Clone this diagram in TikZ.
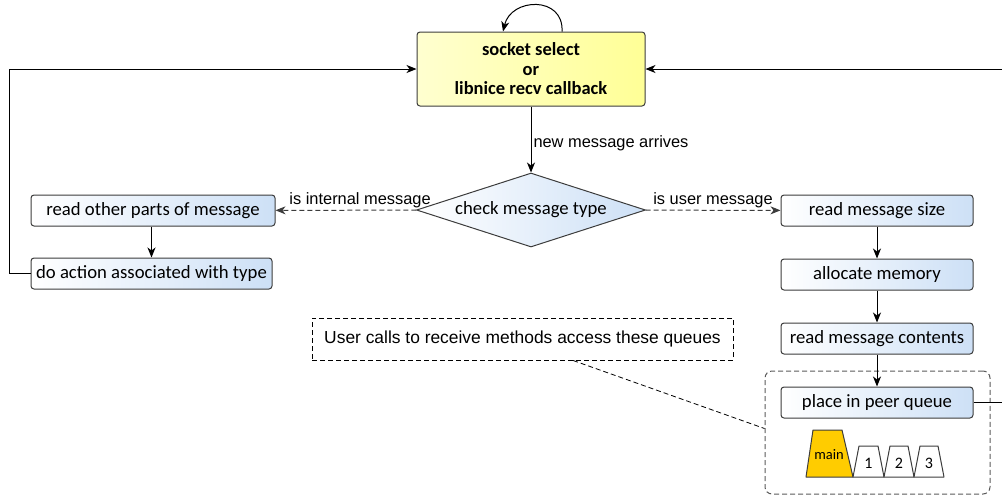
\documentclass[tikz,border=0pt]{standalone}
\usepackage{fontspec}
\setmainfont{Carlito}
\newfontfamily\arialfont{Liberation Sans}
\usetikzlibrary{shapes.geometric,arrows.meta,calc}

\definecolor{boxblue}{RGB}{205,224,246}
\definecolor{boxline}{RGB}{60,60,60}
\definecolor{cbyellow}{RGB}{255,255,150}
\definecolor{mainyellow}{RGB}{255,204,0}
\definecolor{grpgray}{RGB}{90,90,90}

\tikzset{
  arr/.style={line width=1pt, -{Stealth[length=10pt,width=8pt,inset=3pt]}},
  plain/.style={line width=1pt},
  stepbox/.style={draw=boxline, line width=1pt, rounded corners=3pt,
    left color=white, right color=boxblue, minimum height=31pt,
    inner sep=0pt, font=\fontsize{18.7}{20}\selectfont},
  cbbox/.style={draw=boxline, line width=1pt, rounded corners=3pt,
    left color=cbyellow!45!white, middle color=white, right color=cbyellow,
    minimum width=228pt, minimum height=74pt, inner sep=0pt, align=center,
    font=\fontsize{18.5}{19.5}\selectfont\bfseries},
  decision/.style={diamond, aspect=3.1, draw=boxline, line width=1pt,
    left color=white, right color=boxblue, minimum width=229pt,
    minimum height=74pt, inner sep=0pt, font=\fontsize{18.7}{20}\selectfont},
  lbl/.style={font=\arialfont\fontsize{16.4}{18}\selectfont, inner sep=2pt},
  notebox/.style={draw=black, dashed, dash pattern=on 5pt off 3pt, line width=1pt,
    minimum width=421pt, minimum height=42pt, inner sep=0pt,
    font=\arialfont\fontsize{17.4}{19}\selectfont},
  grpbox/.style={draw=grpgray, dash pattern=on 5pt off 3pt, line width=1pt,
    rounded corners=7pt, minimum width=225pt, minimum height=123pt, inner sep=0pt},
  queue/.style={draw=boxline, line width=1pt, line join=round},
  qlbl/.style={inner sep=0pt, font=\fontsize{16}{18}\selectfont},
}

\begin{document}
\begin{tikzpicture}[x=1pt,y=-1pt]
\useasboundingbox (0,0) rectangle (1002,496);

% central event source with its self loop
\node[cbbox] (cb) at (531,69) {socket select\\or\\libnice recv callback};
\coordinate (loopa) at ([xshift=31pt]cb.north);
\coordinate (loopb) at ([xshift=-28pt]cb.north);
\draw[arr] (loopa) .. controls +(2,-36) and +(8,-34) .. (loopb);

% message type decision
\node[decision] (chk) at (531,210) {check message type};
\draw[arr] (cb) -- node[lbl, right, pos=0.55] {new message arrives} (chk);

% internal message branch
\node[stepbox, minimum width=244pt] (rop) at (153,210.5) {read other parts of message};
\node[stepbox, minimum width=241pt] (da) at (151.5,273.5) {do action associated with type};
\draw[arr, dashed, dash pattern=on 5pt off 3pt, draw=boxline]
  (chk) -- node[lbl, above, pos=0.4] {is internal message} (rop);
\draw[arr] (rop.south -| da.north) -- (da.north);
\draw[arr] (da.west) -- ++(-21,0) |- (cb.west);

% user message branch
\node[stepbox, minimum width=192pt] (rms) at (877,210.5) {read message size};
\node[stepbox, minimum width=192pt] (am) at (877,274.5) {allocate memory};
\node[stepbox, minimum width=192pt] (rmc) at (877,338.5) {read message contents};
\node[grpbox] (grp) at (877.5,432.5) {};
\node[stepbox, minimum width=192pt] (pq) at (877,402.5) {place in peer queue};
\draw[arr, dashed, dash pattern=on 5pt off 3pt, draw=boxline]
  (chk) -- node[lbl, above, pos=0.5] {is user message} (rms);
\draw[arr] (rms) -- (am);
\draw[arr] (am) -- (rmc);
\draw[arr] (rmc) -- (pq);

% return paths leaving on the right
\coordinate (rtop) at (1002,69);
\coordinate (rbot) at (1002,402.5);
\draw[plain] (pq.east) -- (rbot);
\draw[arr] (rtop) -- (cb.east);

% peer queues
\draw[queue, fill=mainyellow] (806,477) -- (813,430) -- (842,430) -- (853,477) -- cycle;
\node[qlbl, font=\fontsize{14.5}{16}\selectfont] (qmain) at (829,455) {main};
\draw[queue, fill=white] (853,477) -- (859,446) -- (878,446) -- (884,477) -- cycle;
\node[qlbl] (q1) at (868.5,463.5) {1};
\draw[queue, fill=white] (884,477) -- (890,446) -- (908,446) -- (914,477) -- cycle;
\node[qlbl] (q2) at (899,463.5) {2};
\draw[queue, fill=white] (914,477) -- (920,446) -- (938,446) -- (944,477) -- cycle;
\node[qlbl] (q3) at (929,463.5) {3};

% annotation
\node[notebox] (note) at (522.5,339) {User calls to receive methods access these queues};
\coordinate (nt) at ($(note.south west)!0.62!(note.south east)$);
\draw[dashed, dash pattern=on 5pt off 3pt, line width=0.8pt] (nt) -- ([yshift=4pt]grp.west);
\end{tikzpicture}
\end{document}
